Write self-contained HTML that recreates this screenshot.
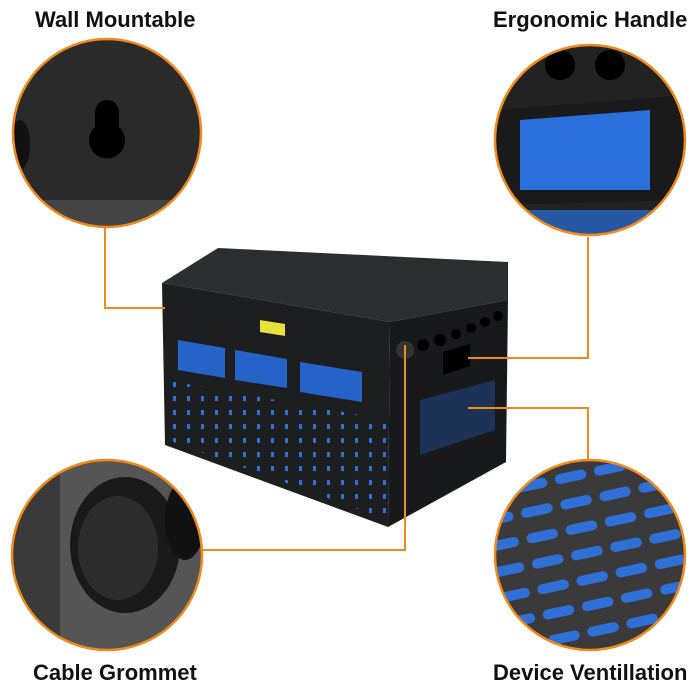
<!DOCTYPE html>
<html><head><style>
body{margin:0;width:700px;height:700px;background:#fff;overflow:hidden;font-family:"Liberation Sans",sans-serif}
.l{position:absolute;font-weight:bold;font-size:22px;color:#111;white-space:nowrap}
</style></head><body>
<svg width="700" height="700" style="position:absolute;left:0;top:0">
<defs>
<clipPath id="c1"><circle cx="107" cy="133" r="94"/></clipPath>
<clipPath id="c2"><circle cx="590" cy="140" r="95"/></clipPath>
<clipPath id="c3"><circle cx="107" cy="555" r="95"/></clipPath>
<clipPath id="c4"><circle cx="590" cy="555" r="95"/></clipPath>
<clipPath id="front"><polygon points="165,380 388,420 388,520 168,440"/></clipPath>
<pattern id="dots" width="14" height="14" patternUnits="userSpaceOnUse"><rect x="5" y="4" width="3" height="5" fill="#2f6fd6"/></pattern>
<pattern id="slots" width="40" height="26" patternUnits="userSpaceOnUse" patternTransform="rotate(-12)"><rect width="40" height="26" fill="#3a3a3a"/><rect x="3" y="8" width="32" height="10" rx="5" fill="#2f6fd6"/></pattern>
</defs>
<!-- box -->
<polygon points="162,283 218,248 508,262 508,300 390,322" fill="#2c2d2f"/>
<polygon points="162,283 390,322 388,527 165,445" fill="#1d1e20"/>
<polygon points="390,322 508,300 506,462 388,527" fill="#18191b"/>
<rect x="160" y="370" width="230" height="160" fill="url(#dots)" clip-path="url(#front)"/>
<g fill="#2563c9">
<polygon points="178,340 225,348 225,378 178,370"/>
<polygon points="235,350 287,359 287,388 235,380"/>
<polygon points="300,362 362,372 362,402 300,392"/>
<polygon points="420,400 495,380 495,430 420,455" opacity="0.35"/>
</g>
<polygon points="260,320 285,324 285,336 260,332" fill="#e7e23a"/>
<g fill="#000">
<circle cx="405" cy="350" r="9" fill="#333"/>
<circle cx="423" cy="345" r="6"/><circle cx="440" cy="340" r="6"/><circle cx="456" cy="334" r="5"/><circle cx="471" cy="328" r="5"/><circle cx="485" cy="322" r="5"/><circle cx="498" cy="316" r="5"/>
<polygon points="443,352 470,344 470,366 443,375"/>
</g>
<!-- connectors -->
<g stroke="#f08a1c" stroke-width="2" fill="none">
<polyline points="105,225 105,308 165,308"/>
<polyline points="588,237 588,358 468,358"/>
<polyline points="588,460 588,408 468,408"/>
<polyline points="203,550 405,550 405,345"/>
</g>
<!-- circle 1 -->
<g clip-path="url(#c1)"><rect x="0" y="30" width="220" height="220" fill="#2a2a2a"/><rect x="0" y="200" width="220" height="50" fill="#444"/>
<path d="M107,100 a12,12 0 0 1 12,12 v15 a18,18 0 1 1 -24,0 v-15 a12,12 0 0 1 12,-12z" fill="#000"/>
<ellipse cx="20" cy="145" rx="10" ry="25" fill="#111"/></g>
<circle cx="107" cy="133" r="94" fill="none" stroke="#f08a1c" stroke-width="2.5"/>
<!-- circle 2 -->
<g clip-path="url(#c2)"><rect x="490" y="40" width="200" height="200" fill="#222"/>
<polygon points="495,110 690,95 690,200 495,205" fill="#1a1a1a"/>
<polygon points="520,120 650,110 650,190 520,190" fill="#2a6fdc"/>
<rect x="520" y="210" width="140" height="30" fill="#2a6fdc" opacity="0.7"/>
<circle cx="560" cy="65" r="15" fill="#000"/><circle cx="610" cy="65" r="15" fill="#000"/></g>
<circle cx="590" cy="140" r="95" fill="none" stroke="#f08a1c" stroke-width="2.5"/>
<!-- circle 3 -->
<g clip-path="url(#c3)"><rect x="0" y="450" width="220" height="220" fill="#555"/>
<rect x="0" y="450" width="60" height="220" fill="#3a3a3a"/>
<ellipse cx="125" cy="545" rx="55" ry="68" fill="#1a1a1a"/><ellipse cx="118" cy="548" rx="40" ry="52" fill="#2c2c2c"/>
<ellipse cx="185" cy="520" rx="20" ry="40" fill="#111"/></g>
<circle cx="107" cy="555" r="95" fill="none" stroke="#f08a1c" stroke-width="2.5"/>
<!-- circle 4 -->
<g clip-path="url(#c4)"><rect x="490" y="455" width="200" height="200" fill="url(#slots)"/></g>
<circle cx="590" cy="555" r="95" fill="none" stroke="#f08a1c" stroke-width="2.5"/>
</svg>
<div class="l" style="left:35px;top:7px">Wall Mountable</div>
<div class="l" style="left:493px;top:7px">Ergonomic Handle</div>
<div class="l" style="left:33px;top:660px">Cable Grommet</div>
<div class="l" style="left:493px;top:660px">Device Ventillation</div>
</body></html>
